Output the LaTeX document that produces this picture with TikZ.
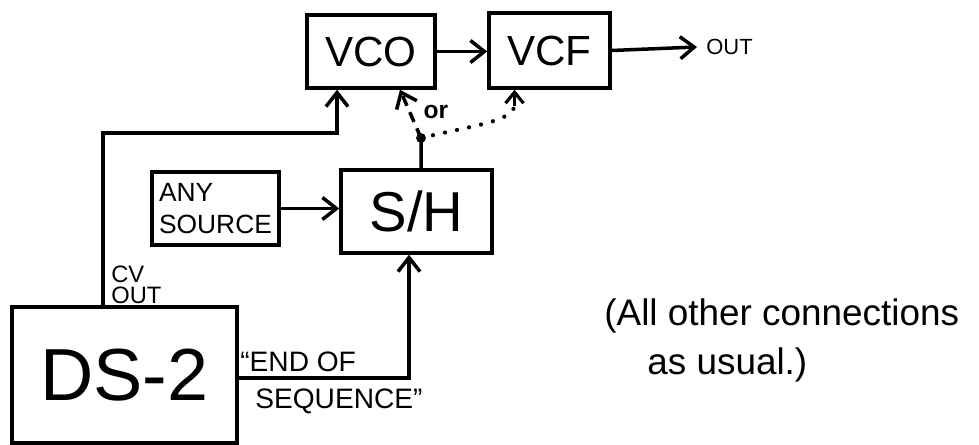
\documentclass[tikz,border=0pt]{standalone}
\usepackage{fontspec}
\setmainfont{Liberation Sans}
\usetikzlibrary{positioning, arrows.meta}

\begin{document}
\begin{tikzpicture}[
  x=0.02cm, y=-0.02cm,
  module/.style={draw, line width=2pt, inner sep=0pt, align=center},
  arrow/.style={-{Straight Barb[length=2.8mm, width=4.4mm]}, line width=2pt},
  hand/.style={inner sep=0pt}
]
  \useasboundingbox (0,0) rectangle (979,445);

  % VCO and VCF on top
  \node[module, minimum width=2.56cm, minimum height=1.46cm, font=\fontsize{24}{24}\selectfont] (vco) at (371,51.5) {VCO};
  \node[module, minimum width=2.42cm, minimum height=1.5cm, font=\fontsize{24}{24}\selectfont] (vcf) at (549.5,50.5) {VCF};

  % middle row
  \node[module, minimum width=2.54cm, minimum height=1.46cm, font=\fontsize{15}{18}\selectfont, align=left] (src) at (215.5,208.5) {ANY\\SOURCE};
  \node[module, minimum width=3.02cm, minimum height=1.66cm, font=\fontsize{32}{32}\selectfont] (sh) at (416.5,211.5) {S/H};

  % sequencer
  \node[module, minimum width=4.5cm, minimum height=2.72cm, font=\fontsize{42}{42}\selectfont] (ds) at (124.5,375) {DS-2};

  % audio path
  \node[hand, anchor=west, font=\fontsize{12.5}{12.5}\selectfont] (out) at (706,47) {OUT};
  \draw[arrow] (vco.east) -- (vco.east -| vcf.west);
  \draw[arrow] (vcf.east) -- ([xshift=-0.18cm]out.west);

  % CV out up to the VCO
  \coordinate (cvbend) at (103,133);
  \draw[arrow] (ds.north -| cvbend) -- (cvbend) -| ([xshift=-0.68cm]vco.south);
  \node[hand, anchor=south west, align=left, font=\fontsize{13.5}{12}\selectfont] (cvlabel) at (111,304) {CV\\OUT};

  % any source into S/H
  \draw[arrow] (src.east) -- (src.east -| sh.west);

  % end of sequence clocks the S/H
  \draw[arrow] ([yshift=-0.06cm]ds.east) -| ([xshift=-0.15cm]sh.south);
  \node[hand, anchor=north west, align=left, font=\fontsize{16}{21}\selectfont] (eos) at (240,352) {``END OF\\\hspace*{0.3cm}SEQUENCE''};

  % S/H output, to VCO or VCF
  \coordinate (tap) at (421,138);
  \coordinate (vcfin) at ([xshift=-0.7cm]vcf.south);
  \coordinate (vcfbend) at ([yshift=-0.32cm]vcfin);
  \draw[line width=2pt] ([xshift=0.09cm]sh.north) -- (tap);
  \fill (tap) circle (2.8pt);
  \draw[arrow, dash pattern=on 6pt off 4pt] (tap) -- ([xshift=0.58cm]vco.south);
  \draw[line width=2.4pt, line cap=round, dash pattern=on 0pt off 7pt] (tap) .. controls (470,126) and (512,122) .. (vcfbend);
  \draw[-{Straight Barb[length=2.2mm, width=3.6mm]}, line width=1.8pt] (vcfbend) -- (vcfin);
  \node[hand, font=\fontsize{14}{14}\selectfont\bfseries] (orlabel) at (436,112) {or};

  % remark
  \node[hand, anchor=north west, align=left, font=\fontsize{21}{28}\selectfont] (remark) at (604,298) {(All other connections\\\hspace*{0.86cm}as usual.)};
\end{tikzpicture}
\end{document}
